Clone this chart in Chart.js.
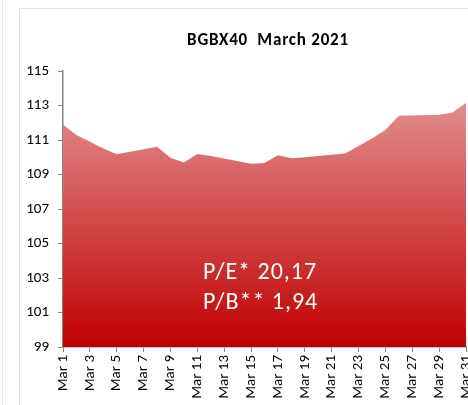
<!DOCTYPE html>
<html>
<head>
<meta charset="utf-8">
<script src="https://cdn.jsdelivr.net/npm/chart.js@4"></script>
<style>
  html, body { margin: 0; padding: 0; background: #fff; overflow: hidden; }
  #wrap { position: relative; width: 468px; height: 405px; overflow: hidden; }
  #line1 { position: absolute; left: 2px; top: 0; width: 1px; height: 405px; background: #dae3f3; }
  #frame { position: absolute; left: 19px; top: 8px; width: 600px; height: 600px; border: 1px solid #dae3f3; box-sizing: border-box; }
  #box { position: absolute; left: 0; top: 0; width: 487px; height: 405px; }
</style>
</head>
<body>
<div id="wrap">
  <div id="line1"></div>
  <div id="frame"></div>
  <div id="box"><canvas id="chart"></canvas></div>
</div>
<script>
// trading days in March 2021 (Mar 3 holiday, weekends skipped)
const days = [1, 2, 4, 5, 8, 9, 10, 11, 12, 15, 16, 17, 18, 19, 22, 23, 24, 25, 26, 29, 30, 31];
const values = [111.9, 111.29, 110.51, 110.17, 110.61, 109.97, 109.69, 110.19, 110.07, 109.63, 109.67, 110.11, 109.94, 110.0, 110.22, 110.65, 111.09, 111.58, 112.41, 112.47, 112.6, 113.16];
const yTicks = [99, 101, 103, 105, 107, 109, 111, 113, 115];
const titleText = 'BGBX40  March 2021';
const notes = ['P/E* 20,17', 'P/B** 1,94'];

const FONT = 'Carlito, Calibri, Lato, sans-serif';

// title + P/E text drawn over the chart
const textPlugin = {
  id: 'texts',
  afterDraw(chart) {
    const ctx = chart.ctx;
    const a = chart.chartArea;
    ctx.save();
    ctx.fillStyle = '#000';
    ctx.font = 'bold 17px ' + FONT;
    ctx.letterSpacing = '0.8px';
    ctx.textAlign = 'center';
    ctx.textBaseline = 'middle';
    ctx.fillText(titleText, 268, 41);
    ctx.fillStyle = '#fff';
    ctx.font = '24px ' + FONT;
    ctx.letterSpacing = '1px';
    ctx.textAlign = 'left';
    ctx.fillText(notes[0], a.left + 140, a.top + 202);
    ctx.fillText(notes[1], a.left + 140, a.top + 232);
    ctx.restore();
  }
};

const ctx = document.getElementById('chart').getContext('2d');
new Chart(ctx, {
  type: 'line',
  data: {
    datasets: [{
      data: days.map((d, i) => ({ x: d, y: values[i] })),
      borderWidth: 0,
      pointRadius: 0,
      tension: 0,
      fill: 'start',
      backgroundColor: function(context) {
        const area = context.chart.chartArea;
        if (!area) return '#c00000';
        const g = context.chart.ctx.createLinearGradient(0, area.top, 0, area.bottom);
        g.addColorStop(0, 'rgb(230,160,160)');
        g.addColorStop(1, 'rgb(192,0,0)');
        return g;
      }
    }]
  },
  options: {
    responsive: true,
    maintainAspectRatio: false,
    animation: false,
    layout: { padding: { top: 71, right: 6, left: 0, bottom: 0 } },
    plugins: { legend: { display: false }, tooltip: { enabled: false } },
    scales: {
      x: {
        type: 'linear',
        min: 1,
        max: 31,
        afterFit: s => { s.height = 58; },
        border: { color: '#868686', width: 1.5 },
        grid: { drawOnChartArea: false, tickLength: 5, color: '#868686' },
        ticks: {
          stepSize: 2,
          autoSkip: false,
          minRotation: 90,
          maxRotation: 90,
          padding: 3,
          color: '#000',
          font: { family: FONT, size: 15 },
          callback: v => 'Mar ' + v
        }
      },
      y: {
        min: 99,
        max: 115,
        afterFit: s => { s.width = 63; },
        afterBuildTicks: axis => { axis.ticks = yTicks.map(v => ({ value: v })); },
        border: { color: '#868686', width: 1.5 },
        grid: { drawOnChartArea: false, tickLength: 5, color: '#868686' },
        ticks: {
          padding: 9,
          color: '#000',
          font: { family: FONT, size: 15 }
        }
      }
    }
  },
  plugins: [textPlugin]
});
</script>
</body>
</html>
